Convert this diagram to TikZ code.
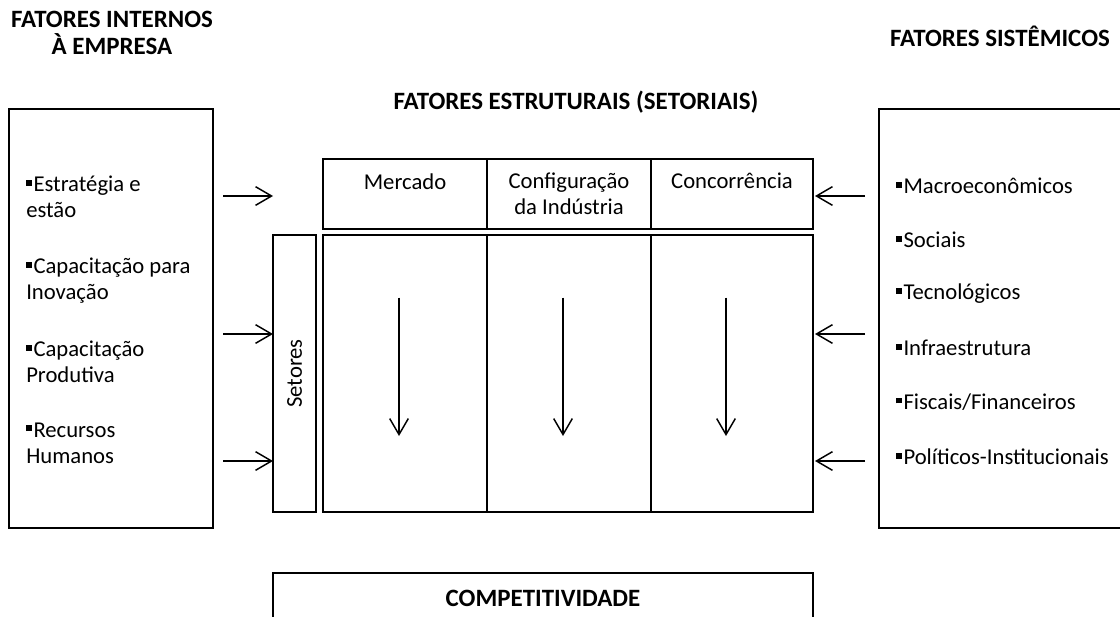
\documentclass[tikz,border=0pt]{standalone}
\usepackage{fontspec}
\setmainfont{Carlito}
\usetikzlibrary{positioning,arrows.meta}
\newcommand{\sqbul}{\rule[0.27em]{0.25em}{0.25em}\hspace{0.07em}}

\begin{document}
\begin{tikzpicture}[
    x=0.75pt, y=-0.75pt,
    box/.style={draw, line width=1.1pt, inner sep=0pt, outer sep=0pt},
    title/.style={font=\bfseries\fontsize{18.7}{20}\selectfont, align=center, inner sep=0pt},
    txt/.style={font=\fontsize{17}{19.5}\selectfont, align=left, inner sep=0pt, anchor=west},
    celltxt/.style={font=\fontsize{17}{19.5}\selectfont, align=center, inner sep=0pt, anchor=north},
    flow/.style={line width=1.1pt, -{Straight Barb[length=12pt, width=14pt]}}
    ]

    \useasboundingbox (0,0) rectangle (1120,617);

    % titles
    \node[title] (tint) at (112,33) {FATORES INTERNOS\\À EMPRESA};
    \node[title] (tsis) at (1000,36) {FATORES SISTÊMICOS};
    \node[title] (test) at (576,102) {FATORES ESTRUTURAIS (SETORIAIS)};

    % side boxes
    \node[box, minimum width=153pt, minimum height=314.25pt] (int) at (111,318.5) {};
    \node[box, minimum width=190pt, minimum height=314.25pt, anchor=west] (sis) at (879,318.5) {};

    % structural table
    \node[box, minimum width=123pt, minimum height=207.75pt] (colA) at (405,373.5) {};
    \node[box, minimum width=123pt, minimum height=207.75pt, right=0pt of colA] (colB) {};
    \node[box, minimum width=121.5pt, minimum height=207.75pt, right=0pt of colB] (colC) {};
    \draw[line width=2pt] (colA.north west) rectangle (colC.south east);

    \node[box, minimum width=123pt, minimum height=52.5pt, above=4.5pt of colA] (mercado) {};
    \node[box, minimum width=123pt, minimum height=52.5pt, right=0pt of mercado] (config) {};
    \node[box, minimum width=121.5pt, minimum height=52.5pt, right=0pt of config] (concor) {};
    \node[celltxt, below=10.5pt of mercado.north] (tmerc) {Mercado};
    \node[celltxt, below=10.5pt of config.north] (tconf) {Configuração\\da Indústria};
    \node[celltxt, below=10.5pt of concor.north] (tconc) {Concorrência};

    \node[box, minimum width=32.25pt, minimum height=207.75pt, left=5.25pt of colA] (setores) {};
    \node[txt, anchor=center, rotate=90] (tset) at (setores.center) {Setores};

    \node[box, minimum width=405pt, minimum height=52pt, anchor=north west] (comp) at (setores.west |- 0,573) {};
    \node[title, below=12.5pt of comp.north] (tcomp) {COMPETITIVIDADE};

    % internal factors
    \node[txt] (i1) at (26,197) {\sqbul Estratégia e\\estão};
    \node[txt] (i2) at (26,281) {\sqbul Capacitação para\\Inovação};
    \node[txt] (i3) at (26,362) {\sqbul Capacitação\\Produtiva};
    \node[txt] (i4) at (26,443) {\sqbul Recursos\\Humanos};

    % systemic factors
    \node[txt] (s1) at (896,186) {\sqbul Macroeconômicos};
    \node[txt] (s2) at (896,240) {\sqbul Sociais};
    \node[txt] (s3) at (896,294) {\sqbul Tecnológicos};
    \node[txt] (s4) at (896,348) {\sqbul Infraestrutura};
    \node[txt] (s5) at (896,402) {\sqbul Fiscais/Financeiros};
    \node[txt] (s6) at (896,457) {\sqbul Políticos-Institucionais};

    \foreach \y in {196,334,461}{
      \draw[flow] ([xshift=7.5pt]int.east |- 0,\y) -- (setores.west |- 0,\y);
      \draw[flow] ([xshift=-10.5pt]sis.west |- 0,\y) -- ([xshift=1.5pt]colC.east |- 0,\y);
    }
    \foreach \c in {colA,colB,colC}
      \draw[flow] ([xshift=-4.5pt, yshift=-47pt]\c.north) -- ([xshift=-4.5pt, yshift=57pt]\c.south);

\end{tikzpicture}
\end{document}
